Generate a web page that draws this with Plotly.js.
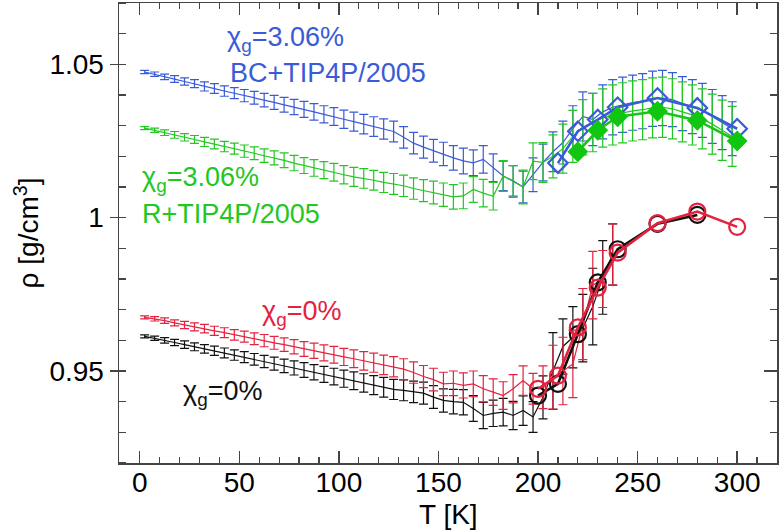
<!DOCTYPE html>
<html>
<head>
<meta charset="utf-8">
<script src="https://cdn.plot.ly/plotly-3.0.1.min.js"></script>
<style>
  html, body { margin: 0; padding: 0; background: #fff; }
  #plot { width: 780px; height: 532px; }
</style>
</head>
<body>
<div id="plot"></div>
<script>
// temperature grid of the thin curves (K)
const tFine = [2.5, 7.5, 12.5, 17.5, 22.5, 27.5, 32.5, 37.5, 42.5, 47.5,
  52.5, 57.5, 62.5, 67.5, 72.5, 77.5, 82.5, 87.5, 92.5, 97.5,
  102.5, 107.5, 112.5, 117.5, 122.5, 127.5, 132.5, 137.5, 142.5, 147.5,
  152.5, 157.5, 162.5, 167.5, 172.5, 177.5, 182.5, 187.5, 192.5, 197.5,
  202.5, 207.5, 212.5, 217.5, 222.5, 227.5, 232.5, 237.5, 242.5, 247.5,
  252.5, 257.5, 262.5, 267.5, 272.5, 277.5, 282.5, 287.5, 292.5, 297.5];
const tFineLow = tFine.slice(0, 48);

// BC+TIP4P/2005, chi_g = 3.06 %
const rhoBlue = [1.0475, 1.0468, 1.0459, 1.0452, 1.0444, 1.0437, 1.0428, 1.0421, 1.0413, 1.0406,
  1.0398, 1.0391, 1.0383, 1.0376, 1.0368, 1.0361, 1.0353, 1.0345, 1.0337, 1.0330,
  1.0321, 1.0313, 1.0305, 1.0297, 1.0289, 1.0281, 1.0262, 1.0243, 1.0230, 1.0218,
  1.0208, 1.0195, 1.0185, 1.0179, 1.0190, 1.0163, 1.0136, 1.0120, 1.0100, 1.0140,
  1.0180, 1.0215, 1.0245, 1.0290, 1.0330, 1.0320, 1.0345, 1.0360, 1.0368, 1.0375,
  1.0380, 1.0388, 1.0390, 1.0385, 1.0372, 1.0362, 1.0350, 1.0330, 1.0310, 1.0290];
const errBlue = [0.0005, 0.0007, 0.0009, 0.0011, 0.0012, 0.0013, 0.0015, 0.0016, 0.0017, 0.0018,
  0.0020, 0.0021, 0.0022, 0.0023, 0.0024, 0.0025, 0.0026, 0.0027, 0.0028, 0.0029,
  0.0030, 0.0031, 0.0032, 0.0032, 0.0033, 0.0034, 0.0035, 0.0035, 0.0036, 0.0037,
  0.0038, 0.0040, 0.0042, 0.0042, 0.0045, 0.0045, 0.0048, 0.0050, 0.0052, 0.0055,
  0.0060, 0.0065, 0.0070, 0.0075, 0.0080, 0.0085, 0.0088, 0.0090, 0.0090, 0.0090,
  0.0090, 0.0090, 0.0090, 0.0088, 0.0088, 0.0088, 0.0088, 0.0088, 0.0088, 0.0088];

// R+TIP4P/2005, chi_g = 3.06 %
const rhoGreen = [1.0292, 1.0285, 1.0277, 1.0270, 1.0262, 1.0255, 1.0247, 1.0240, 1.0232, 1.0225,
  1.0217, 1.0210, 1.0202, 1.0195, 1.0187, 1.0178, 1.0170, 1.0162, 1.0155, 1.0148,
  1.0140, 1.0133, 1.0128, 1.0122, 1.0115, 1.0110, 1.0104, 1.0095, 1.0088, 1.0082,
  1.0075, 1.0068, 1.0071, 1.0092, 1.0080, 1.0070, 1.0136, 1.0118, 1.0100, 1.0184,
  1.0180, 1.0200, 1.0225, 1.0265, 1.0295, 1.0310, 1.0325, 1.0335, 1.0342, 1.0348,
  1.0352, 1.0358, 1.0360, 1.0355, 1.0345, 1.0335, 1.0322, 1.0305, 1.0285, 1.0265];
const errGreen = [0.0005, 0.0007, 0.0009, 0.0011, 0.0012, 0.0013, 0.0015, 0.0016, 0.0017, 0.0018,
  0.0020, 0.0021, 0.0022, 0.0023, 0.0024, 0.0025, 0.0026, 0.0027, 0.0028, 0.0029,
  0.0030, 0.0031, 0.0032, 0.0032, 0.0033, 0.0034, 0.0035, 0.0035, 0.0036, 0.0037,
  0.0038, 0.0040, 0.0042, 0.0042, 0.0045, 0.0045, 0.0050, 0.0052, 0.0055, 0.0060,
  0.0065, 0.0070, 0.0080, 0.0085, 0.0090, 0.0095, 0.0095, 0.0098, 0.0098, 0.0098,
  0.0098, 0.0098, 0.0098, 0.0098, 0.0098, 0.0098, 0.0098, 0.0098, 0.0098, 0.0098];

// TIP4P/2005, chi_g = 0 % (red)
const rhoRed = [0.9675, 0.9670, 0.9664, 0.9657, 0.9650, 0.9644, 0.9638, 0.9631, 0.9625, 0.9618,
  0.9612, 0.9605, 0.9599, 0.9592, 0.9586, 0.9579, 0.9572, 0.9566, 0.9559, 0.9553,
  0.9546, 0.9540, 0.9533, 0.9527, 0.9520, 0.9514, 0.9506, 0.9495, 0.9482, 0.9472,
  0.9458, 0.9460, 0.9453, 0.9458, 0.9442, 0.9431, 0.9420, 0.9442, 0.9469, 0.9442,
  0.9447, 0.9480, 0.9500, 0.9523, 0.9653, 0.9780, 0.9800, 0.9880];
const errRed = [0.0005, 0.0007, 0.0009, 0.0010, 0.0012, 0.0013, 0.0014, 0.0015, 0.0016, 0.0017,
  0.0018, 0.0019, 0.0020, 0.0021, 0.0022, 0.0023, 0.0024, 0.0025, 0.0026, 0.0027,
  0.0028, 0.0029, 0.0030, 0.0031, 0.0032, 0.0033, 0.0034, 0.0035, 0.0036, 0.0037,
  0.0038, 0.0040, 0.0041, 0.0042, 0.0043, 0.0043, 0.0045, 0.0046, 0.0048, 0.0050,
  0.0070, 0.0104, 0.0110, 0.0110, 0.0116, 0.0110, 0.0093, 0.0100];

// TIP4P/2005, chi_g = 0 % (black)
const rhoBlack = [0.9613, 0.9607, 0.9600, 0.9593, 0.9586, 0.9579, 0.9572, 0.9566, 0.9559, 0.9552,
  0.9545, 0.9538, 0.9531, 0.9524, 0.9517, 0.9510, 0.9503, 0.9496, 0.9489, 0.9482,
  0.9475, 0.9468, 0.9461, 0.9454, 0.9447, 0.9440, 0.9437, 0.9432, 0.9428, 0.9415,
  0.9404, 0.9400, 0.9398, 0.9378, 0.9355, 0.9362, 0.9366, 0.9355, 0.9371, 0.9350,
  0.9414, 0.9500, 0.9580, 0.9610, 0.9640, 0.9710, 0.9805, 0.9880];
const errBlack = [0.0005, 0.0007, 0.0009, 0.0010, 0.0012, 0.0013, 0.0014, 0.0015, 0.0016, 0.0017,
  0.0018, 0.0019, 0.0020, 0.0021, 0.0022, 0.0023, 0.0024, 0.0025, 0.0026, 0.0027,
  0.0028, 0.0029, 0.0030, 0.0031, 0.0032, 0.0033, 0.0034, 0.0035, 0.0036, 0.0037,
  0.0038, 0.0040, 0.0041, 0.0042, 0.0043, 0.0043, 0.0045, 0.0046, 0.0048, 0.0050,
  0.0070, 0.0125, 0.0090, 0.0100, 0.0110, 0.0125, 0.0120, 0.0100];

// coarse runs with symbols
const tBlueDia = [210, 220, 230, 240, 260, 280, 300];
const rhoBlueDia = [1.0178, 1.0282, 1.0320, 1.0360, 1.0390, 1.0358, 1.0290];
const tGreenDia = [220, 230, 240, 260, 280, 300];
const rhoGreenDia = [1.0215, 1.0285, 1.0329, 1.0347, 1.0317, 1.0250];
const tRedCirc = [200, 210, 220, 230, 240, 260, 280, 300];
const rhoRedCirc = [0.9442, 0.9485, 0.9642, 0.9772, 0.9886, 0.9982, 1.0020, 0.9970];
const tBlackCirc = [200, 210, 220, 230, 240, 260, 280];
const rhoBlackCirc = [0.9420, 0.9458, 0.9620, 0.9789, 0.9897, 0.9980, 1.0009];

const xTicks = [0, 50, 100, 150, 200, 250, 300];
const yTicks = [0.95, 1, 1.05];
const yTickText = ['0.95', '1', '1.05'];

const BLUE = '#3a5bd8';
const GREEN = '#22c722';
const RED = '#e3223f';
const BLACK = '#111111';
const FONT = 'Liberation Sans, Arial, sans-serif';

function thin(x, y, err, color) {
  return {
    x: x, y: y, type: 'scatter', mode: 'lines',
    line: { color: color, width: 1.2 },
    error_y: { type: 'data', array: err, visible: true, color: color, thickness: 1.2, width: 4.5 },
    showlegend: false, hoverinfo: 'skip'
  };
}

function thick(x, y, color, marker) {
  return {
    x: x, y: y, type: 'scatter', mode: 'lines+markers',
    line: { color: color, width: 2.6 },
    marker: marker,
    showlegend: false
  };
}

const traces = [
  thin(tFine, rhoBlue, errBlue, BLUE),
  thin(tFine, rhoGreen, errGreen, GREEN),
  thin(tFineLow, rhoBlack, errBlack, BLACK),
  thin(tFineLow, rhoRed, errRed, RED),
  thick(tBlueDia, rhoBlueDia, BLUE,
    { symbol: 'diamond-open', size: 15, color: BLUE, line: { width: 2.2, color: BLUE } }),
  thick(tGreenDia, rhoGreenDia, '#1cc21c',
    { symbol: 'diamond', size: 16, color: '#11c611' }),
  thick(tBlackCirc, rhoBlackCirc, BLACK,
    { symbol: 'circle-open', size: 16, color: BLACK, line: { width: 2.2, color: BLACK } }),
  thick(tRedCirc, rhoRedCirc, RED,
    { symbol: 'circle-open', size: 16, color: RED, line: { width: 2.2, color: RED } })
];

function note(text, x, y, color) {
  return {
    text: text, x: x, y: y, xref: 'x', yref: 'y',
    xanchor: 'left', yanchor: 'middle', showarrow: false,
    font: { family: FONT, size: 27, color: color }
  };
}

const layout = {
  width: 780, height: 532,
  margin: { l: 119, r: 3, t: 3, b: 69 },
  paper_bgcolor: '#fff', plot_bgcolor: '#fff',
  font: { family: FONT, size: 28, color: '#000' },
  xaxis: {
    range: [-10.4, 320], tickvals: xTicks, ticks: 'inside', ticklen: 12, tickwidth: 1.5,
    tickcolor: '#444', showline: true, linecolor: '#444', linewidth: 1.5, mirror: 'ticks',
    showgrid: false, zeroline: false, ticklabelstandoff: -6,
    minor: { dtick: 10, ticks: 'inside', ticklen: 6, tickwidth: 1.2, tickcolor: '#444', showgrid: false },
    tickfont: { family: FONT, size: 28 }
  },
  yaxis: {
    range: [0.92, 1.07], tickvals: yTicks, ticktext: yTickText, ticks: 'outside', ticklen: 8,
    tickwidth: 1.5, tickcolor: '#444', showline: true, linecolor: '#444', linewidth: 1.5,
    showgrid: false, zeroline: false,
    minor: { dtick: 0.01, ticks: 'inside', ticklen: 7, tickwidth: 1.2, tickcolor: '#444', showgrid: false },
    tickfont: { family: FONT, size: 28 },
    title: { text: 'ρ [g/cm<sup>3</sup>]', font: { family: FONT, size: 28 }, standoff: 2 }
  },
  yaxis2: {
    overlaying: 'y', side: 'right', range: [0.92, 1.07], tickvals: yTicks,
    ticks: 'inside', ticklen: 13, tickwidth: 1.5, tickcolor: '#444', showticklabels: false,
    showline: true, linecolor: '#444', linewidth: 1.5, showgrid: false, zeroline: false,
    minor: { dtick: 0.01, ticks: 'inside', ticklen: 7, tickwidth: 1.2, tickcolor: '#444', showgrid: false }
  },
  annotations: [
    note('χ<sub>g</sub>=3.06%', 42.7, 1.0582, BLUE),
    note('BC+TIP4P/2005', 44.2, 1.0472, BLUE),
    note('χ<sub>g</sub>=3.06%', 0, 1.0125, GREEN),
    note('R+TIP4P/2005', 0, 1.0012, GREEN),
    note('χ<sub>g</sub>=0%', 60.3, 0.9688, RED),
    note('χ<sub>g</sub>=0%', 20.9, 0.9428, BLACK),
    // x-axis title, placed below the tick labels
    { text: 'T [K]', xref: 'paper', yref: 'paper', x: 0.5, y: -0.15,
      xanchor: 'center', yanchor: 'bottom', showarrow: false,
      font: { family: FONT, size: 28, color: '#000' } }
  ]
};

// dummy trace so the right-hand axis is drawn
traces.push({ x: [0], y: [1], yaxis: 'y2', mode: 'markers', marker: { opacity: 0 },
  showlegend: false, hoverinfo: 'skip' });

Plotly.newPlot('plot', traces, layout, { staticPlot: true });
</script>
</body>
</html>
